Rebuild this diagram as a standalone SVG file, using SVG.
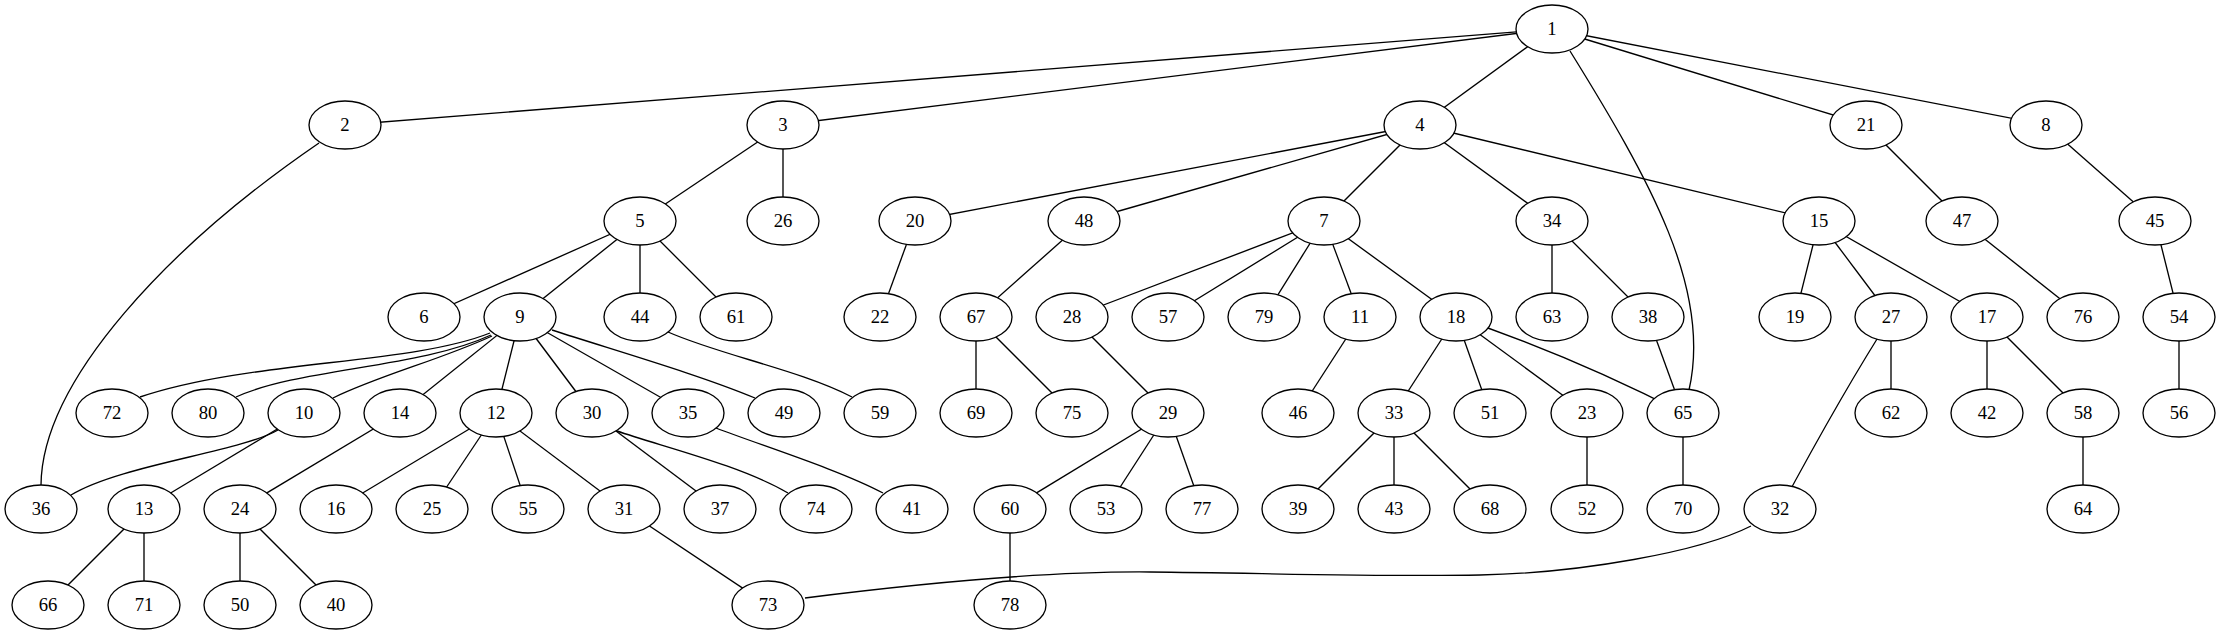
<svg xmlns="http://www.w3.org/2000/svg" width="2220" height="635" viewBox="0 0 2220 635">
<style>
.e{fill:none;stroke:#000;stroke-width:1.33}
.n ellipse{fill:#fff;stroke:#000;stroke-width:1.33}
.n text{font-family:"Liberation Serif","Times New Roman",serif;font-size:18.67px;text-anchor:middle;fill:#000}
</style>
<rect width="2220" height="635" fill="#fff"/>
<g id="edges" class="e">
<line x1="1552" y1="29" x2="345" y2="125"/>
<line x1="1552" y1="29" x2="783" y2="125"/>
<line x1="1552" y1="29" x2="1420" y2="125"/>
<line x1="1552" y1="29" x2="1866" y2="125"/>
<line x1="1552" y1="29" x2="2046" y2="125"/>
<path d="M1570,51 C1650,180 1712,290 1689,390"/>
<path d="M319,143 C170,245 42,380 41,485"/>
<line x1="783" y1="125" x2="640" y2="221"/>
<line x1="783" y1="125" x2="783" y2="221"/>
<line x1="1420" y1="125" x2="915" y2="221"/>
<line x1="1420" y1="125" x2="1084" y2="221"/>
<line x1="1420" y1="125" x2="1324" y2="221"/>
<line x1="1420" y1="125" x2="1552" y2="221"/>
<line x1="1420" y1="125" x2="1819" y2="221"/>
<line x1="1866" y1="125" x2="1962" y2="221"/>
<line x1="2046" y1="125" x2="2155" y2="221"/>
<line x1="640" y1="221" x2="424" y2="317"/>
<line x1="640" y1="221" x2="520" y2="317"/>
<line x1="640" y1="221" x2="640" y2="317"/>
<line x1="640" y1="221" x2="736" y2="317"/>
<line x1="915" y1="221" x2="880" y2="317"/>
<line x1="1084" y1="221" x2="976" y2="317"/>
<line x1="1324" y1="221" x2="1072" y2="317"/>
<line x1="1324" y1="221" x2="1168" y2="317"/>
<line x1="1324" y1="221" x2="1264" y2="317"/>
<line x1="1324" y1="221" x2="1360" y2="317"/>
<line x1="1324" y1="221" x2="1456" y2="317"/>
<line x1="1552" y1="221" x2="1552" y2="317"/>
<line x1="1552" y1="221" x2="1648" y2="317"/>
<line x1="1819" y1="221" x2="1795" y2="317"/>
<line x1="1819" y1="221" x2="1891" y2="317"/>
<line x1="1819" y1="221" x2="1987" y2="317"/>
<line x1="1962" y1="221" x2="2083" y2="317"/>
<line x1="2155" y1="221" x2="2179" y2="317"/>
<path d="M490,333 C410,365 250,360 140,397"/>
<path d="M491,335 C420,368 300,368 236,397"/>
<path d="M492,336 C440,360 380,375 333,398"/>
<line x1="520" y1="317" x2="400" y2="413"/>
<line x1="520" y1="317" x2="496" y2="413"/>
<line x1="520" y1="317" x2="592" y2="413"/>
<line x1="520" y1="317" x2="688" y2="413"/>
<path d="M552,330 C620,352 700,375 755,398"/>
<path d="M668,332 C720,355 800,370 852,397"/>
<line x1="976" y1="317" x2="976" y2="413"/>
<line x1="976" y1="317" x2="1072" y2="413"/>
<line x1="1072" y1="317" x2="1168" y2="413"/>
<line x1="1360" y1="317" x2="1298" y2="413"/>
<line x1="1456" y1="317" x2="1394" y2="413"/>
<line x1="1456" y1="317" x2="1490" y2="413"/>
<line x1="1456" y1="317" x2="1587" y2="413"/>
<path d="M1456,317 Q1570,355 1683,413"/>
<line x1="1648" y1="317" x2="1683" y2="413"/>
<line x1="1891" y1="317" x2="1891" y2="413"/>
<path d="M1891,317 Q1845,388 1780,509"/>
<line x1="1987" y1="317" x2="1987" y2="413"/>
<line x1="1987" y1="317" x2="2083" y2="413"/>
<line x1="2179" y1="317" x2="2179" y2="413"/>
<path d="M278,430 C240,452 120,465 71,495"/>
<line x1="304" y1="413" x2="144" y2="509"/>
<line x1="400" y1="413" x2="240" y2="509"/>
<line x1="496" y1="413" x2="336" y2="509"/>
<line x1="496" y1="413" x2="432" y2="509"/>
<line x1="496" y1="413" x2="528" y2="509"/>
<line x1="496" y1="413" x2="624" y2="509"/>
<line x1="592" y1="413" x2="720" y2="509"/>
<path d="M617,431 C660,446 740,465 788,493"/>
<path d="M716,428 C760,445 840,470 883,493"/>
<line x1="1168" y1="413" x2="1010" y2="509"/>
<line x1="1168" y1="413" x2="1106" y2="509"/>
<line x1="1168" y1="413" x2="1202" y2="509"/>
<line x1="1394" y1="413" x2="1298" y2="509"/>
<line x1="1394" y1="413" x2="1394" y2="509"/>
<line x1="1394" y1="413" x2="1490" y2="509"/>
<line x1="1587" y1="413" x2="1587" y2="509"/>
<line x1="1683" y1="413" x2="1683" y2="509"/>
<line x1="2083" y1="413" x2="2083" y2="509"/>
<line x1="144" y1="509" x2="48" y2="605"/>
<line x1="144" y1="509" x2="144" y2="605"/>
<line x1="240" y1="509" x2="240" y2="605"/>
<line x1="240" y1="509" x2="336" y2="605"/>
<line x1="624" y1="509" x2="768" y2="605"/>
<line x1="1010" y1="509" x2="1010" y2="605"/>
<path d="M805,598 C900,586 1040,571 1150,572 S1380,577 1480,575 S1700,552 1751,526"/>
</g>
<g class="n">
<g id="node1"><ellipse cx="1552" cy="29" rx="36" ry="24"/><text x="1552" y="35">1</text></g>
<g id="node2"><ellipse cx="345" cy="125" rx="36" ry="24"/><text x="345" y="131">2</text></g>
<g id="node3"><ellipse cx="783" cy="125" rx="36" ry="24"/><text x="783" y="131">3</text></g>
<g id="node4"><ellipse cx="1420" cy="125" rx="36" ry="24"/><text x="1420" y="131">4</text></g>
<g id="node21"><ellipse cx="1866" cy="125" rx="36" ry="24"/><text x="1866" y="131">21</text></g>
<g id="node8"><ellipse cx="2046" cy="125" rx="36" ry="24"/><text x="2046" y="131">8</text></g>
<g id="node5"><ellipse cx="640" cy="221" rx="36" ry="24"/><text x="640" y="227">5</text></g>
<g id="node26"><ellipse cx="783" cy="221" rx="36" ry="24"/><text x="783" y="227">26</text></g>
<g id="node20"><ellipse cx="915" cy="221" rx="36" ry="24"/><text x="915" y="227">20</text></g>
<g id="node48"><ellipse cx="1084" cy="221" rx="36" ry="24"/><text x="1084" y="227">48</text></g>
<g id="node7"><ellipse cx="1324" cy="221" rx="36" ry="24"/><text x="1324" y="227">7</text></g>
<g id="node34"><ellipse cx="1552" cy="221" rx="36" ry="24"/><text x="1552" y="227">34</text></g>
<g id="node15"><ellipse cx="1819" cy="221" rx="36" ry="24"/><text x="1819" y="227">15</text></g>
<g id="node47"><ellipse cx="1962" cy="221" rx="36" ry="24"/><text x="1962" y="227">47</text></g>
<g id="node45"><ellipse cx="2155" cy="221" rx="36" ry="24"/><text x="2155" y="227">45</text></g>
<g id="node6"><ellipse cx="424" cy="317" rx="36" ry="24"/><text x="424" y="323">6</text></g>
<g id="node9"><ellipse cx="520" cy="317" rx="36" ry="24"/><text x="520" y="323">9</text></g>
<g id="node44"><ellipse cx="640" cy="317" rx="36" ry="24"/><text x="640" y="323">44</text></g>
<g id="node61"><ellipse cx="736" cy="317" rx="36" ry="24"/><text x="736" y="323">61</text></g>
<g id="node22"><ellipse cx="880" cy="317" rx="36" ry="24"/><text x="880" y="323">22</text></g>
<g id="node67"><ellipse cx="976" cy="317" rx="36" ry="24"/><text x="976" y="323">67</text></g>
<g id="node28"><ellipse cx="1072" cy="317" rx="36" ry="24"/><text x="1072" y="323">28</text></g>
<g id="node57"><ellipse cx="1168" cy="317" rx="36" ry="24"/><text x="1168" y="323">57</text></g>
<g id="node79"><ellipse cx="1264" cy="317" rx="36" ry="24"/><text x="1264" y="323">79</text></g>
<g id="node11"><ellipse cx="1360" cy="317" rx="36" ry="24"/><text x="1360" y="323">11</text></g>
<g id="node18"><ellipse cx="1456" cy="317" rx="36" ry="24"/><text x="1456" y="323">18</text></g>
<g id="node63"><ellipse cx="1552" cy="317" rx="36" ry="24"/><text x="1552" y="323">63</text></g>
<g id="node38"><ellipse cx="1648" cy="317" rx="36" ry="24"/><text x="1648" y="323">38</text></g>
<g id="node19"><ellipse cx="1795" cy="317" rx="36" ry="24"/><text x="1795" y="323">19</text></g>
<g id="node27"><ellipse cx="1891" cy="317" rx="36" ry="24"/><text x="1891" y="323">27</text></g>
<g id="node17"><ellipse cx="1987" cy="317" rx="36" ry="24"/><text x="1987" y="323">17</text></g>
<g id="node76"><ellipse cx="2083" cy="317" rx="36" ry="24"/><text x="2083" y="323">76</text></g>
<g id="node54"><ellipse cx="2179" cy="317" rx="36" ry="24"/><text x="2179" y="323">54</text></g>
<g id="node72"><ellipse cx="112" cy="413" rx="36" ry="24"/><text x="112" y="419">72</text></g>
<g id="node80"><ellipse cx="208" cy="413" rx="36" ry="24"/><text x="208" y="419">80</text></g>
<g id="node10"><ellipse cx="304" cy="413" rx="36" ry="24"/><text x="304" y="419">10</text></g>
<g id="node14"><ellipse cx="400" cy="413" rx="36" ry="24"/><text x="400" y="419">14</text></g>
<g id="node12"><ellipse cx="496" cy="413" rx="36" ry="24"/><text x="496" y="419">12</text></g>
<g id="node30"><ellipse cx="592" cy="413" rx="36" ry="24"/><text x="592" y="419">30</text></g>
<g id="node35"><ellipse cx="688" cy="413" rx="36" ry="24"/><text x="688" y="419">35</text></g>
<g id="node49"><ellipse cx="784" cy="413" rx="36" ry="24"/><text x="784" y="419">49</text></g>
<g id="node59"><ellipse cx="880" cy="413" rx="36" ry="24"/><text x="880" y="419">59</text></g>
<g id="node69"><ellipse cx="976" cy="413" rx="36" ry="24"/><text x="976" y="419">69</text></g>
<g id="node75"><ellipse cx="1072" cy="413" rx="36" ry="24"/><text x="1072" y="419">75</text></g>
<g id="node29"><ellipse cx="1168" cy="413" rx="36" ry="24"/><text x="1168" y="419">29</text></g>
<g id="node46"><ellipse cx="1298" cy="413" rx="36" ry="24"/><text x="1298" y="419">46</text></g>
<g id="node33"><ellipse cx="1394" cy="413" rx="36" ry="24"/><text x="1394" y="419">33</text></g>
<g id="node51"><ellipse cx="1490" cy="413" rx="36" ry="24"/><text x="1490" y="419">51</text></g>
<g id="node23"><ellipse cx="1587" cy="413" rx="36" ry="24"/><text x="1587" y="419">23</text></g>
<g id="node65"><ellipse cx="1683" cy="413" rx="36" ry="24"/><text x="1683" y="419">65</text></g>
<g id="node62"><ellipse cx="1891" cy="413" rx="36" ry="24"/><text x="1891" y="419">62</text></g>
<g id="node42"><ellipse cx="1987" cy="413" rx="36" ry="24"/><text x="1987" y="419">42</text></g>
<g id="node58"><ellipse cx="2083" cy="413" rx="36" ry="24"/><text x="2083" y="419">58</text></g>
<g id="node56"><ellipse cx="2179" cy="413" rx="36" ry="24"/><text x="2179" y="419">56</text></g>
<g id="node36"><ellipse cx="41" cy="509" rx="36" ry="24"/><text x="41" y="515">36</text></g>
<g id="node13"><ellipse cx="144" cy="509" rx="36" ry="24"/><text x="144" y="515">13</text></g>
<g id="node24"><ellipse cx="240" cy="509" rx="36" ry="24"/><text x="240" y="515">24</text></g>
<g id="node16"><ellipse cx="336" cy="509" rx="36" ry="24"/><text x="336" y="515">16</text></g>
<g id="node25"><ellipse cx="432" cy="509" rx="36" ry="24"/><text x="432" y="515">25</text></g>
<g id="node55"><ellipse cx="528" cy="509" rx="36" ry="24"/><text x="528" y="515">55</text></g>
<g id="node31"><ellipse cx="624" cy="509" rx="36" ry="24"/><text x="624" y="515">31</text></g>
<g id="node37"><ellipse cx="720" cy="509" rx="36" ry="24"/><text x="720" y="515">37</text></g>
<g id="node74"><ellipse cx="816" cy="509" rx="36" ry="24"/><text x="816" y="515">74</text></g>
<g id="node41"><ellipse cx="912" cy="509" rx="36" ry="24"/><text x="912" y="515">41</text></g>
<g id="node60"><ellipse cx="1010" cy="509" rx="36" ry="24"/><text x="1010" y="515">60</text></g>
<g id="node53"><ellipse cx="1106" cy="509" rx="36" ry="24"/><text x="1106" y="515">53</text></g>
<g id="node77"><ellipse cx="1202" cy="509" rx="36" ry="24"/><text x="1202" y="515">77</text></g>
<g id="node39"><ellipse cx="1298" cy="509" rx="36" ry="24"/><text x="1298" y="515">39</text></g>
<g id="node43"><ellipse cx="1394" cy="509" rx="36" ry="24"/><text x="1394" y="515">43</text></g>
<g id="node68"><ellipse cx="1490" cy="509" rx="36" ry="24"/><text x="1490" y="515">68</text></g>
<g id="node52"><ellipse cx="1587" cy="509" rx="36" ry="24"/><text x="1587" y="515">52</text></g>
<g id="node70"><ellipse cx="1683" cy="509" rx="36" ry="24"/><text x="1683" y="515">70</text></g>
<g id="node32"><ellipse cx="1780" cy="509" rx="36" ry="24"/><text x="1780" y="515">32</text></g>
<g id="node64"><ellipse cx="2083" cy="509" rx="36" ry="24"/><text x="2083" y="515">64</text></g>
<g id="node66"><ellipse cx="48" cy="605" rx="36" ry="24"/><text x="48" y="611">66</text></g>
<g id="node71"><ellipse cx="144" cy="605" rx="36" ry="24"/><text x="144" y="611">71</text></g>
<g id="node50"><ellipse cx="240" cy="605" rx="36" ry="24"/><text x="240" y="611">50</text></g>
<g id="node40"><ellipse cx="336" cy="605" rx="36" ry="24"/><text x="336" y="611">40</text></g>
<g id="node73"><ellipse cx="768" cy="605" rx="36" ry="24"/><text x="768" y="611">73</text></g>
<g id="node78"><ellipse cx="1010" cy="605" rx="36" ry="24"/><text x="1010" y="611">78</text></g>
</g>
</svg>
